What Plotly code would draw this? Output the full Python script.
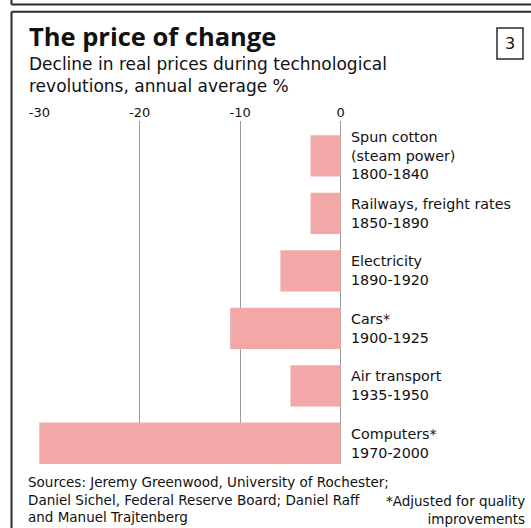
import plotly.graph_objects as go

# ---- data ----
categories = [
    "Spun cotton<br>(steam power)<br>1800-1840",
    "Railways, freight rates<br>1850-1890",
    "Electricity<br>1890-1920",
    "Cars*<br>1900-1925",
    "Air transport<br>1935-1950",
    "Computers*<br>1970-2000",
]
values = [-3.0, -3.0, -6.0, -11.0, -5.0, -30.0]
tick_vals = [-30, -20, -10, 0]
tick_text = ["-30", "-20", "-10", "0"]

title = "The price of change"
subtitle = "Decline in real prices during technological<br>revolutions, annual average %"
sources = ("Sources: Jeremy Greenwood, University of Rochester;<br>"
           "Daniel Sichel, Federal Reserve Board; Daniel Raff<br>"
           "and Manuel Trajtenberg")
footnote = "*Adjusted for quality<br>improvements"
panel_no = "3"

# ---- layout geometry ----
W, H = 531, 528
L, R, T, B = 39, 190, 121, 64
PW, PH = W - L - R, H - T - B


def px(x):
    return (x - L) / PW


def py(y):
    return (H - B - y) / PH


FONT = "DejaVu Sans"
TFONT = "Open Sans"
INK = "#111111"
BAR = "#F1A8A7"
GRID = "#9a9a9a"
FRAME = "#2a2a2a"

fig = go.Figure(go.Bar(
    x=values, y=categories, orientation="h",
    marker=dict(color=BAR, line=dict(width=0)),
    hoverinfo="skip",
))

annotations = []
for cat in categories:
    annotations.append(dict(
        x=0, y=cat, xref="x", yref="y", text=cat, showarrow=False,
        xanchor="left", yanchor="middle", align="left", xshift=8,
        font=dict(family=FONT, size=14.3, color=INK),
    ))

annotations += [
    dict(x=px(27), y=py(36), xref="paper", yref="paper", text="<b>" + title + "</b>",
         showarrow=False, xanchor="left", yanchor="middle",
         font=dict(family=TFONT, size=25.5, color=INK)),
    dict(x=px(27), y=py(52), xref="paper", yref="paper", text=subtitle,
         showarrow=False, xanchor="left", yanchor="top", align="left",
         font=dict(family=FONT, size=17, color=INK)),
    dict(x=px(510), y=py(43.5), xref="paper", yref="paper", text=panel_no,
         showarrow=False, xanchor="center", yanchor="middle",
         font=dict(family=FONT, size=16, color=INK)),
    dict(x=px(26), y=py(472), xref="paper", yref="paper", text=sources,
         showarrow=False, xanchor="left", yanchor="top", align="left",
         font=dict(family=FONT, size=13.5, color=INK)),
    dict(x=px(527), y=py(491), xref="paper", yref="paper", text=footnote,
         showarrow=False, xanchor="right", yanchor="top", align="right",
         font=dict(family=FONT, size=13.5, color=INK)),
]

shapes = [
    # top (previous panel) border
    dict(type="line", xref="paper", yref="paper", x0=px(11.5), x1=px(560), y0=py(4.5), y1=py(4.5),
         line=dict(color=FRAME, width=2)),
    dict(type="line", xref="paper", yref="paper", x0=px(11.5), x1=px(11.5), y0=py(-5), y1=py(4.5),
         line=dict(color=FRAME, width=2)),
    # main panel border
    dict(type="line", xref="paper", yref="paper", x0=px(11.5), x1=px(560), y0=py(11.8), y1=py(11.8),
         line=dict(color=FRAME, width=2)),
    dict(type="line", xref="paper", yref="paper", x0=px(11.5), x1=px(11.5), y0=py(11.8), y1=py(560),
         line=dict(color=FRAME, width=2)),
    # panel number box
    dict(type="rect", xref="paper", yref="paper", x0=px(497), x1=px(523), y0=py(28), y1=py(59),
         line=dict(color=FRAME, width=1.5)),
]

fig.update_layout(
    width=W, height=H,
    margin=dict(l=L, r=R, t=T, b=B, autoexpand=False),
    paper_bgcolor="white", plot_bgcolor="white",
    showlegend=False, bargap=0.28,
    annotations=annotations, shapes=shapes,
    xaxis=dict(
        range=[-30.03, 0.03], side="top", tickmode="array",
        tickvals=tick_vals, ticktext=tick_text,
        showgrid=True, gridcolor=GRID, gridwidth=1,
        zeroline=True, zerolinecolor=GRID, zerolinewidth=1,
        showline=False, ticks="", ticklabelstandoff=0,
        tickfont=dict(family=FONT, size=13, color=INK),
        fixedrange=True,
    ),
    yaxis=dict(
        type="category", range=[5.36, -0.607], visible=False, fixedrange=True,
    ),
)

fig.write_html(
    "out.html",
    config={"displayModeBar": False},
    post_script="document.body.style.margin='0';document.body.style.overflow='hidden';",
)
